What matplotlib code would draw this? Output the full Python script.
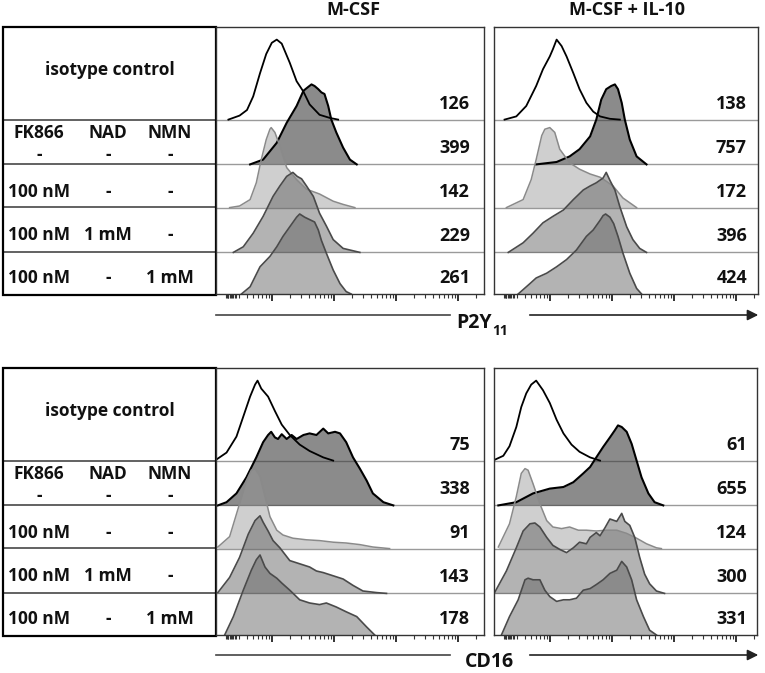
# %% Section 0: Import packages

import matplotlib.pyplot as plt
from matplotlib.patches import Rectangle
from matplotlib.transforms import blended_transform_factory

plt.rcParams["font.family"] = ["Open Sans", "DejaVu Sans"]
plt.rcParams["font.weight"] = "bold"


# %% Section 1: Data (x in log decades, y in % of mode)

col_titles = ["M-CSF", "M-CSF + IL-10"]
markers = [("P2Y", "11"), ("CD16", "")]

fk866 = ["-", "100 nM", "100 nM", "100 nM"]
nad = ["-", "-", "1 mM", "-"]
nmn = ["-", "-", "-", "1 mM"]

# median fluorescence, rows: isotype, control, FK866, FK866+NAD, FK866+NMN
p2y_mcsf_mfi = [126, 399, 142, 229, 261]
p2y_il10_mfi = [138, 757, 172, 396, 424]
cd16_mcsf_mfi = [75, 338, 91, 143, 178]
cd16_il10_mfi = [61, 655, 124, 300, 331]

# P2Y11, M-CSF
p2y_mcsf_iso_x = [-0.70, -0.52, -0.40, -0.30, -0.19, -0.09, 0.00, 0.08, 0.16, 0.29, 0.40, 0.51, 0.61, 0.77, 0.94, 1.07]
p2y_mcsf_iso_y = [0, 5, 12, 29, 58, 82, 96, 100, 95, 71, 48, 35, 19, 6, 2, 0]
p2y_mcsf_ctrl_x = [-0.35, -0.14, 0.08, 0.24, 0.40, 0.51, 0.59, 0.64, 0.69, 0.75, 0.80, 0.85, 0.91, 0.96, 1.04, 1.15, 1.26, 1.37]
p2y_mcsf_ctrl_y = [0, 6, 27, 52, 73, 92, 97, 100, 98, 94, 90, 88, 73, 56, 40, 21, 6, 0]
p2y_mcsf_fk_x = [-0.68, -0.52, -0.35, -0.25, -0.17, -0.09, -0.03, -0.01, 0.05, 0.13, 0.24, 0.40, 0.56, 0.77, 0.99, 1.15, 1.34]
p2y_mcsf_fk_y = [0, 2, 10, 31, 60, 85, 98, 100, 94, 77, 50, 35, 23, 17, 8, 4, 0]
p2y_mcsf_nad_x = [-0.62, -0.46, -0.30, -0.14, 0.02, 0.13, 0.24, 0.34, 0.41, 0.48, 0.56, 0.67, 0.77, 0.88, 0.99, 1.15, 1.42]
p2y_mcsf_nad_y = [0, 7, 24, 45, 70, 83, 95, 100, 95, 92, 83, 70, 49, 33, 16, 5, 0]
p2y_mcsf_nmn_x = [-0.49, -0.35, -0.19, -0.03, 0.08, 0.18, 0.29, 0.40, 0.45, 0.53, 0.61, 0.69, 0.75, 0.80, 0.88, 0.99, 1.10, 1.20, 1.28]
p2y_mcsf_nmn_y = [0, 9, 34, 47, 59, 72, 84, 96, 100, 96, 93, 90, 80, 67, 51, 30, 13, 3, 0]

# P2Y11, M-CSF + IL-10
p2y_il10_iso_x = [-0.73, -0.54, -0.38, -0.22, -0.11, 0.00, 0.05, 0.11, 0.19, 0.27, 0.38, 0.48, 0.59, 0.70, 0.81, 0.97, 1.13]
p2y_il10_iso_y = [0, 4, 17, 42, 63, 79, 88, 100, 92, 79, 58, 38, 21, 10, 4, 1, 0]
p2y_il10_ctrl_x = [-0.22, 0.11, 0.32, 0.48, 0.65, 0.75, 0.83, 0.91, 0.99, 1.05, 1.10, 1.16, 1.21, 1.29, 1.40, 1.56]
p2y_il10_ctrl_y = [0, 3, 10, 19, 35, 56, 81, 94, 98, 100, 94, 77, 56, 31, 10, 0]
p2y_il10_fk_x = [-0.70, -0.43, -0.30, -0.22, -0.13, -0.08, 0.00, 0.08, 0.16, 0.32, 0.48, 0.65, 0.81, 0.91, 1.02, 1.18, 1.40]
p2y_il10_fk_y = [0, 10, 35, 60, 90, 98, 100, 94, 73, 56, 48, 42, 38, 33, 27, 12, 0]
p2y_il10_nad_x = [-0.67, -0.43, -0.27, -0.11, 0.05, 0.22, 0.38, 0.54, 0.65, 0.75, 0.86, 0.91, 0.97, 1.05, 1.13, 1.24, 1.34, 1.45, 1.56]
p2y_il10_nad_y = [0, 12, 24, 37, 45, 53, 66, 78, 83, 87, 93, 100, 90, 78, 57, 32, 16, 5, 0]
p2y_il10_nmn_x = [-0.51, -0.32, -0.22, -0.05, 0.11, 0.27, 0.43, 0.59, 0.70, 0.81, 0.86, 0.90, 0.97, 1.03, 1.10, 1.18, 1.29, 1.40, 1.48]
p2y_il10_nmn_y = [0, 13, 20, 26, 34, 43, 55, 72, 80, 92, 98, 100, 96, 88, 72, 51, 26, 7, 0]

# CD16, M-CSF
cd16_mcsf_iso_x = [-0.90, -0.73, -0.57, -0.46, -0.35, -0.27, -0.23, -0.17, -0.06, 0.05, 0.16, 0.29, 0.45, 0.61, 0.83, 0.99]
cd16_mcsf_iso_y = [1, 10, 30, 55, 80, 95, 100, 90, 80, 62, 45, 32, 20, 12, 4, 0]
cd16_mcsf_ctrl_x = [-0.87, -0.73, -0.57, -0.41, -0.25, -0.14, -0.06, -0.01, 0.05, 0.10, 0.16, 0.24, 0.32, 0.40,
                    0.51, 0.61, 0.72, 0.83, 0.91, 1.02, 1.10, 1.20, 1.31, 1.42, 1.53, 1.63, 1.80, 1.96]
cd16_mcsf_ctrl_y = [0, 4, 15, 35, 60, 79, 88, 92, 85, 83, 89, 83, 88, 83,
                    88, 90, 88, 96, 90, 92, 90, 79, 60, 46, 31, 15, 4, 0]
cd16_mcsf_fk_x = [-0.87, -0.68, -0.52, -0.41, -0.33, -0.27, -0.19, -0.11, -0.03, 0.08, 0.18, 0.34, 0.56, 0.77, 0.99, 1.20, 1.42, 1.63, 1.90]
cd16_mcsf_fk_y = [2, 15, 56, 85, 98, 100, 90, 65, 40, 23, 17, 13, 11, 10, 8, 7, 5, 2, 0]
cd16_mcsf_nad_x = [-0.87, -0.68, -0.52, -0.38, -0.27, -0.19, -0.14, -0.06, 0.02, 0.13, 0.29, 0.45, 0.61, 0.72, 0.83, 0.99, 1.15, 1.31, 1.47, 1.69, 1.85]
cd16_mcsf_nad_y = [1, 20, 45, 74, 91, 97, 89, 78, 66, 57, 41, 37, 33, 28, 26, 22, 18, 10, 3, 1, 0]
cd16_mcsf_nmn_x = [-0.76, -0.62, -0.46, -0.33, -0.25, -0.19, -0.11, -0.03, 0.08, 0.16, 0.29, 0.45, 0.61, 0.77, 0.88, 1.04, 1.20, 1.37, 1.53, 1.66]
cd16_mcsf_nmn_y = [0, 23, 56, 81, 94, 100, 85, 77, 71, 65, 56, 44, 40, 38, 40, 35, 29, 23, 10, 0]

# CD16, M-CSF + IL-10
cd16_il10_iso_x = [-0.89, -0.75, -0.65, -0.54, -0.46, -0.38, -0.30, -0.22, -0.11, 0.00, 0.11, 0.22, 0.35, 0.48, 0.65, 0.81]
cd16_il10_iso_y = [1, 6, 18, 42, 67, 84, 95, 100, 88, 72, 51, 34, 20, 11, 4, 0]
cd16_il10_ctrl_x = [-0.83, -0.54, -0.27, 0.00, 0.22, 0.38, 0.54, 0.65, 0.75, 0.86, 0.97, 1.05, 1.10, 1.16, 1.24, 1.32, 1.40, 1.48, 1.59, 1.69, 1.83]
cd16_il10_ctrl_y = [0, 4, 15, 21, 23, 29, 40, 48, 60, 73, 85, 94, 100, 98, 92, 77, 56, 35, 15, 4, 0]
cd16_il10_fk_x = [-0.83, -0.65, -0.54, -0.46, -0.40, -0.35, -0.27, -0.16, -0.05, 0.05, 0.19, 0.32, 0.46, 0.59, 0.75, 0.91, 1.08, 1.24, 1.40, 1.56, 1.72, 1.80]
cd16_il10_fk_y = [2, 31, 65, 94, 100, 98, 81, 56, 35, 27, 25, 27, 23, 23, 22, 23, 23, 19, 13, 6, 1, 0]
cd16_il10_nad_x = [-0.89, -0.70, -0.54, -0.43, -0.32, -0.24, -0.16, -0.05, 0.05, 0.16, 0.27, 0.38, 0.48, 0.59, 0.65,
                   0.75, 0.81, 0.89, 0.97, 1.08, 1.16, 1.21, 1.29, 1.37, 1.45, 1.53, 1.61, 1.72, 1.85]
cd16_il10_nad_y = [1, 28, 57, 78, 87, 88, 83, 70, 60, 55, 51, 57, 64, 62, 70,
                   76, 72, 82, 93, 90, 100, 90, 85, 70, 45, 24, 12, 3, 0]
cd16_il10_nmn_x = [-0.78, -0.65, -0.51, -0.40, -0.35, -0.27, -0.16, -0.08, 0.00, 0.11, 0.22, 0.32, 0.43,
                   0.54, 0.65, 0.75, 0.86, 0.97, 1.08, 1.16, 1.24, 1.32, 1.40, 1.51, 1.61, 1.72]
cd16_il10_nmn_y = [0, 23, 44, 69, 71, 69, 69, 56, 48, 42, 44, 44, 46,
                   56, 58, 63, 69, 77, 81, 92, 85, 69, 44, 23, 6, 0]


# %% Section 2: Layout and styles

W, H = 765, 673

# row baselines (% of mode units) from top row to bottom row
row_offset = [218, 162, 108, 52, 0]
fill_color = [None, "#3a3a3a", "#969696", "#5e5e5e", "#5e5e5e"]
fill_alpha = [0, 0.59, 0.45, 0.47, 0.47]
line_color = ["#000000", "#000000", "#8a8a8a", "#4a4a4a", "#4a4a4a"]
line_width = [1.3, 1.5, 1.1, 1.2, 1.2]

# panel boxes in pixels: left, top, right, bottom
sections = [
    dict(top=27, marker=markers[0], arrow_y=315, label_y=323,
         panels=[dict(box=(216, 27, 484, 294), mfi=p2y_mcsf_mfi, pad=14,
                      x=[p2y_mcsf_iso_x, p2y_mcsf_ctrl_x, p2y_mcsf_fk_x, p2y_mcsf_nad_x, p2y_mcsf_nmn_x],
                      y=[p2y_mcsf_iso_y, p2y_mcsf_ctrl_y, p2y_mcsf_fk_y, p2y_mcsf_nad_y, p2y_mcsf_nmn_y]),
                 dict(box=(494, 27, 758, 294), mfi=p2y_il10_mfi, pad=11,
                      x=[p2y_il10_iso_x, p2y_il10_ctrl_x, p2y_il10_fk_x, p2y_il10_nad_x, p2y_il10_nmn_x],
                      y=[p2y_il10_iso_y, p2y_il10_ctrl_y, p2y_il10_fk_y, p2y_il10_nad_y, p2y_il10_nmn_y])]),
    dict(top=368, marker=markers[1], arrow_y=655, label_y=662,
         panels=[dict(box=(216, 368, 484, 635), mfi=cd16_mcsf_mfi, pad=14,
                      x=[cd16_mcsf_iso_x, cd16_mcsf_ctrl_x, cd16_mcsf_fk_x, cd16_mcsf_nad_x, cd16_mcsf_nmn_x],
                      y=[cd16_mcsf_iso_y, cd16_mcsf_ctrl_y, cd16_mcsf_fk_y, cd16_mcsf_nad_y, cd16_mcsf_nmn_y]),
                 dict(box=(494, 368, 757, 635), mfi=cd16_il10_mfi, pad=10,
                      x=[cd16_il10_iso_x, cd16_il10_ctrl_x, cd16_il10_fk_x, cd16_il10_nad_x, cd16_il10_nmn_x],
                      y=[cd16_il10_iso_y, cd16_il10_ctrl_y, cd16_il10_fk_y, cd16_il10_nad_y, cd16_il10_nmn_y])]),
]

px_per_decade = 62
px_per_pct = 0.8

# log-style ticks (decade units)
major_ticks = [0, 1, 2, 3]
minor_ticks = [-0.74, -0.72, -0.70, -0.68, -0.66, -0.64, -0.62, -0.60, -0.58]
for dec in [-1, 0, 1, 2, 3]:
    for frac in [0.301, 0.477, 0.602, 0.699, 0.778, 0.845, 0.903, 0.954]:
        minor_ticks.append(dec + frac)

fig = plt.figure(figsize=(W / 100, H / 100), dpi=100)
bg = fig.add_axes([0, 0, 1, 1])
bg.set_xlim(0, W)
bg.set_ylim(H, 0)
bg.axis("off")

txt = dict(fontsize=12.5, fontweight="bold", ha="center", va="center", color="#111111")

# column titles
bg.text(353, 10, col_titles[0], **{**txt, "fontsize": 13})
bg.text(627, 10, col_titles[1], **{**txt, "fontsize": 13})


# %% Section 3: Draw tables, panels and axis arrows

for sec in sections:
    t = sec["top"]

    # condition table
    bg.add_patch(Rectangle((3, t), 213, 268, fill=False, ec="black", lw=1.6, zorder=3))
    for dy in [93, 137, 180, 225]:
        bg.plot([3, 216], [t + dy, t + dy], color="#555555", lw=1.3, zorder=2)
    bg.text(110, t + 43, "isotype control", **txt)
    bg.text(39, t + 106, "FK866", **txt)
    bg.text(108, t + 106, "NAD", **txt)
    bg.text(170, t + 106, "NMN", **txt)
    row_y = [t + 128, t + 165, t + 208, t + 251]
    for ii in range(4):
        bg.text(39, row_y[ii], fk866[ii], **txt)
        bg.text(108, row_y[ii], nad[ii], **txt)
        bg.text(170, row_y[ii], nmn[ii], **txt)

    # axis arrow with marker label
    ay = sec["arrow_y"]
    bg.plot([216, 450], [ay, ay], color="#444444", lw=1.2)
    bg.annotate("", xy=(761, ay), xytext=(527, ay),
                arrowprops=dict(arrowstyle="-|>", color="#222222", lw=1.2, mutation_scale=16))
    main, sub = sec["marker"]
    if sub:
        bg.text(492, sec["label_y"], main, **{**txt, "fontsize": 14, "ha": "right"})
        bg.text(492, sec["label_y"] + 8, sub, **{**txt, "fontsize": 10, "ha": "left"})
    else:
        bg.text(489, sec["label_y"], main, **{**txt, "fontsize": 14})

    for pan in sec["panels"]:
        l, tp, r, b = pan["box"]
        ax = fig.add_axes([l / W, 1 - b / H, (r - l) / W, (b - tp) / H])
        ax.set_xlim(-0.9, -0.9 + (r - l) / px_per_decade)
        ax.set_ylim(0, (b - tp) / px_per_pct)

        for off in row_offset[:-1]:
            ax.axhline(off, color="#9a9a9a", lw=1.0, zorder=0.5)

        # fills first, outlines on top
        for ii in range(5):
            yy = [row_offset[ii] + v for v in pan["y"][ii]]
            if fill_color[ii] is not None:
                ax.fill_between(pan["x"][ii], row_offset[ii], yy,
                                color=fill_color[ii], alpha=fill_alpha[ii], lw=0, zorder=1)
        for ii in range(5):
            yy = [row_offset[ii] + v for v in pan["y"][ii]]
            ax.plot(pan["x"][ii], yy, color=line_color[ii], lw=line_width[ii], zorder=2)

        trans = blended_transform_factory(ax.transAxes, ax.transData)
        for ii in range(5):
            ax.text(1 - pan["pad"] / (r - l), row_offset[ii] + 20, str(pan["mfi"][ii]),
                    transform=trans, ha="right", va="center", fontsize=13,
                    fontweight="bold", color="#111111")

        ax.set_xticks(major_ticks)
        ax.set_xticks([m for m in minor_ticks if m < ax.get_xlim()[1]], minor=True)
        ax.set_xticklabels([])
        ax.set_yticks([])
        ax.tick_params(axis="x", which="major", length=5, width=1.3, color="#222222")
        ax.tick_params(axis="x", which="minor", length=3, width=0.8, color="#333333")
        for sp in ax.spines.values():
            sp.set_color("#333333")
            sp.set_linewidth(1.0)

fig.savefig("out.png", dpi=100)
